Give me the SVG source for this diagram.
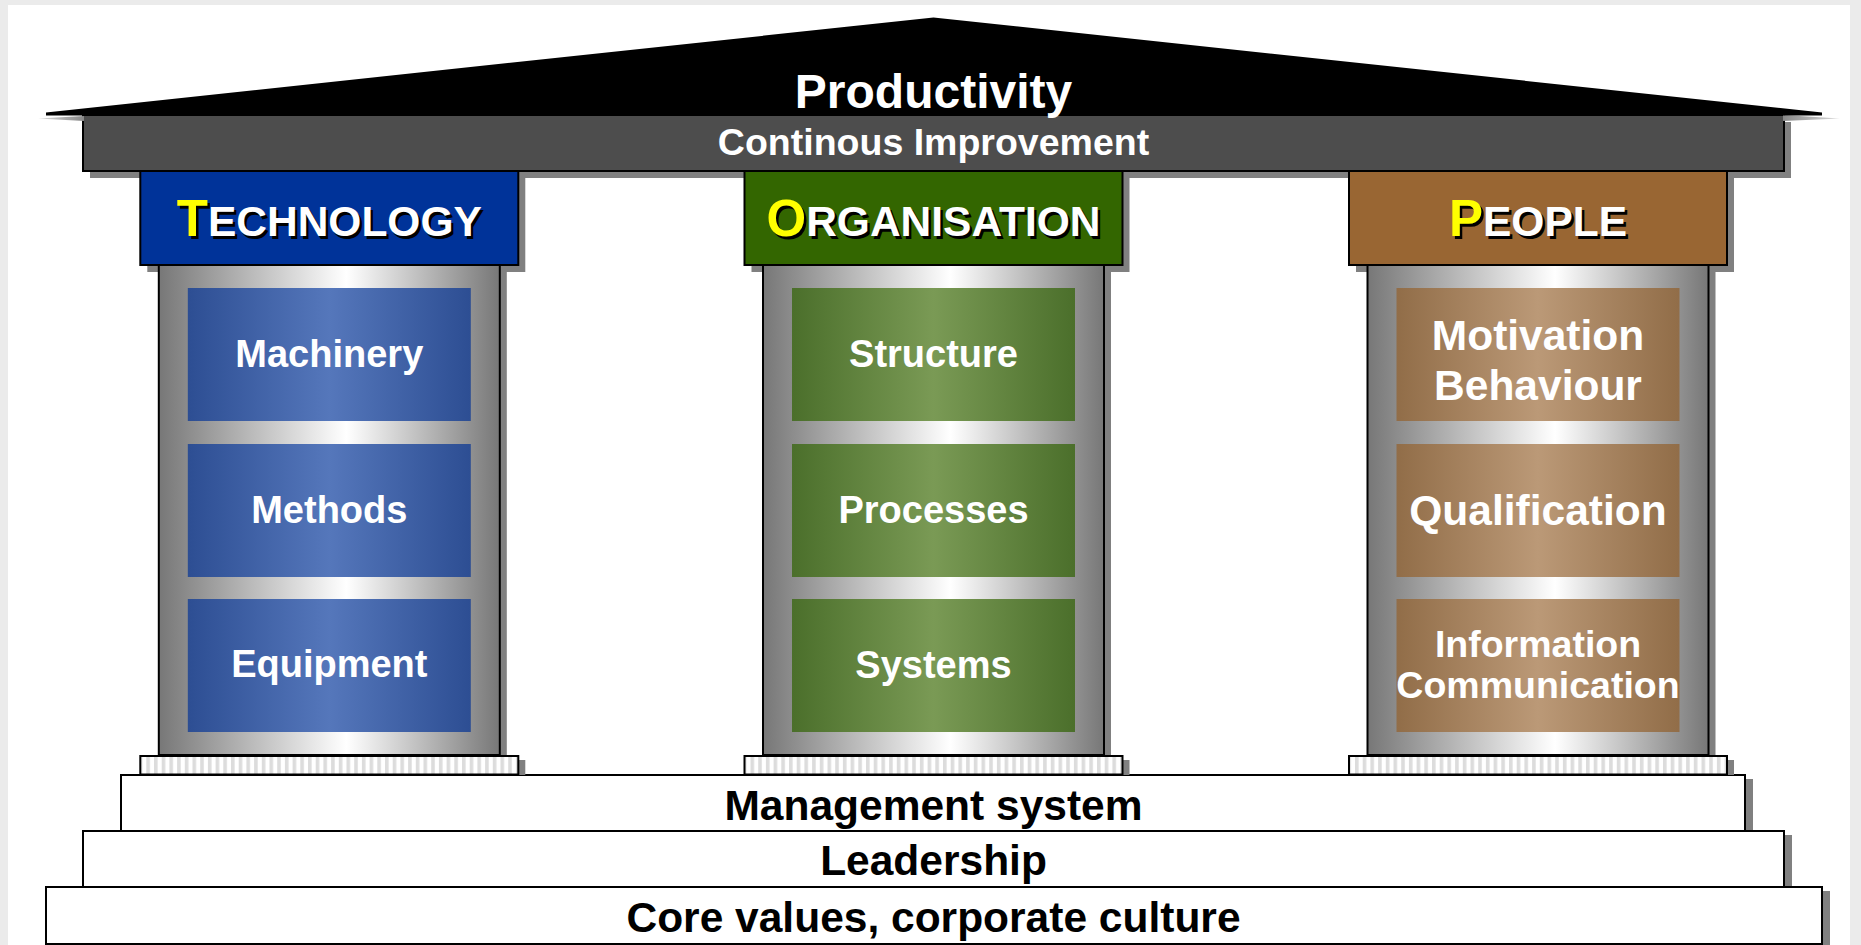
<svg xmlns="http://www.w3.org/2000/svg" width="1861" height="945" viewBox="0 0 1861 945">
<defs>
<linearGradient id="gShaft" x1="0" y1="0" x2="1" y2="0"><stop offset="0" stop-color="#777"/><stop offset="0.55" stop-color="#fff"/><stop offset="1" stop-color="#777"/></linearGradient>
<linearGradient id="gBlue" x1="0" y1="0" x2="1" y2="0"><stop offset="0" stop-color="#2d4e93"/><stop offset="0.5" stop-color="#5577bb"/><stop offset="1" stop-color="#2d4e93"/></linearGradient>
<linearGradient id="gGreen" x1="0" y1="0" x2="1" y2="0"><stop offset="0" stop-color="#4b6f2b"/><stop offset="0.5" stop-color="#7a9a55"/><stop offset="1" stop-color="#4b6f2b"/></linearGradient>
<linearGradient id="gBrown" x1="0" y1="0" x2="1" y2="0"><stop offset="0" stop-color="#916d48"/><stop offset="0.5" stop-color="#bb9977"/><stop offset="1" stop-color="#916d48"/></linearGradient>
<linearGradient id="gRoofShL" x1="0" y1="0" x2="1" y2="0"><stop offset="0" stop-color="#ddd"/><stop offset="1" stop-color="#888"/></linearGradient>
<linearGradient id="gRoofShR" x1="0" y1="0" x2="1" y2="0"><stop offset="0" stop-color="#888"/><stop offset="1" stop-color="#ddd"/></linearGradient>
<pattern id="stripes" patternUnits="userSpaceOnUse" x="-183" y="0" width="7.7" height="40"><rect width="7.7" height="40" fill="#fff"/><rect width="3.6" height="40" fill="#dcdcdc"/></pattern>
</defs>
<style>
.t{font-family:"Liberation Sans",Arial,Helvetica,sans-serif;font-weight:bold;text-anchor:middle}
.w{fill:#fff}
.k{fill:#000}
.yl{fill:#ffff00}
.sh{fill:#808080}
.ln{stroke:#000;stroke-width:2}
.title{font-size:42.5px}
.big{font-size:51px}
.item{font-size:38px}
.item2{font-size:42.5px}
.item3{font-size:37.5px}
.step{font-size:42.5px}
.shaft{fill:url(#gShaft)}
.plinth{fill:url(#stripes)}
.stepbox{fill:#fff}
</style>
<g id="background">
<rect x="0" y="0" width="1861" height="945" fill="#ebebeb"/>
<rect x="8" y="5" width="1842" height="940" fill="#fff"/>
</g>
<g id="continous-improvement">
<rect class="sh" x="90" y="122" width="1701" height="56"/>
<rect x="83" y="115" width="1701" height="56" fill="#4d4d4d" class="ln"/>
<text class="t w" x="933.5" y="155" style="font-size:37.5px">Continous Improvement</text>
</g>
<g id="roof">
<polygon points="38,118.5 84,116 84,121" fill="url(#gRoofShL)"/>
<polygon points="1783,115 1840,118.5 1783,121" fill="url(#gRoofShR)"/>
<polygon points="46,112.5 933.5,17.5 1822,112.5 1822,115.5 46,115.5" fill="#000"/>
<text class="t w" x="933.5" y="108" style="font-size:48px">Productivity</text>
</g>
<g id="steps">
<rect class="sh" x="1745" y="779" width="8" height="52"/>
<rect class="sh" x="1784" y="835" width="8" height="52"/>
<rect class="sh" x="1822" y="891" width="8" height="54"/>
<g id="step-core-values">
<rect class="stepbox ln" x="46" y="887" width="1776" height="57"/>
<text class="t k step" x="933.5" y="931.5">Core values, corporate culture</text>
</g>
<g id="step-leadership">
<rect class="stepbox ln" x="83" y="831" width="1701" height="56"/>
<text class="t k step" x="933.5" y="875">Leadership</text>
</g>
<g id="step-management">
<rect class="stepbox ln" x="121" y="775" width="1624" height="56"/>
<text class="t k step" x="933.5" y="820">Management system</text>
</g>
</g>
<g id="col-technology" transform="translate(329.3,0)">
<rect class="sh" x="-182" y="178" width="378" height="94"/>
<rect class="sh" x="-163.5" y="272" width="341" height="483"/>
<rect class="sh" x="-182" y="760" width="378" height="15"/>
<rect class="shaft ln" x="-170.5" y="265" width="341" height="490"/>
<rect class="ln" x="-189" y="171" width="378" height="94" fill="#003399"/>
<rect x="-141.5" y="288" width="283" height="133" fill="url(#gBlue)"/>
<rect x="-141.5" y="444" width="283" height="133" fill="url(#gBlue)"/>
<rect x="-141.5" y="599" width="283" height="133" fill="url(#gBlue)"/>
<rect class="plinth ln" x="-189" y="756" width="378" height="18.5"/>
<text class="t k title" x="2.5" y="238.5"><tspan class="big">T</tspan>ECHNOLOGY</text>
<text class="t w title" x="0" y="236"><tspan class="big yl">T</tspan>ECHNOLOGY</text>
<text class="t w item" x="0" y="367">Machinery</text>
<text class="t w item" x="0" y="523">Methods</text>
<text class="t w item" x="0" y="677">Equipment</text>
</g>
<g id="col-organisation" transform="translate(933.5,0)">
<rect class="sh" x="-182" y="178" width="378" height="94"/>
<rect class="sh" x="-163.5" y="272" width="341" height="483"/>
<rect class="sh" x="-182" y="760" width="378" height="15"/>
<rect class="shaft ln" x="-170.5" y="265" width="341" height="490"/>
<rect class="ln" x="-189" y="171" width="378" height="94" fill="#336600"/>
<rect x="-141.5" y="288" width="283" height="133" fill="url(#gGreen)"/>
<rect x="-141.5" y="444" width="283" height="133" fill="url(#gGreen)"/>
<rect x="-141.5" y="599" width="283" height="133" fill="url(#gGreen)"/>
<rect class="plinth ln" x="-189" y="756" width="378" height="18.5"/>
<text class="t k title" x="2.5" y="238.5"><tspan class="big">O</tspan>RGANISATION</text>
<text class="t w title" x="0" y="236"><tspan class="big yl">O</tspan>RGANISATION</text>
<text class="t w item" x="0" y="367">Structure</text>
<text class="t w item" x="0" y="523">Processes</text>
<text class="t w item" x="0" y="678">Systems</text>
</g>
<g id="col-people" transform="translate(1538,0)">
<rect class="sh" x="-182" y="178" width="378" height="94"/>
<rect class="sh" x="-163.5" y="272" width="341" height="483"/>
<rect class="sh" x="-182" y="760" width="378" height="15"/>
<rect class="shaft ln" x="-170.5" y="265" width="341" height="490"/>
<rect class="ln" x="-189" y="171" width="378" height="94" fill="#996633"/>
<rect x="-141.5" y="288" width="283" height="133" fill="url(#gBrown)"/>
<rect x="-141.5" y="444" width="283" height="133" fill="url(#gBrown)"/>
<rect x="-141.5" y="599" width="283" height="133" fill="url(#gBrown)"/>
<rect class="plinth ln" x="-189" y="756" width="378" height="18.5"/>
<text class="t k title" x="2.5" y="238.5"><tspan class="big">P</tspan>EOPLE</text>
<text class="t w title" x="0" y="236"><tspan class="big yl">P</tspan>EOPLE</text>
<text class="t w item2" x="0" y="350">Motivation</text>
<text class="t w item2" x="0" y="400">Behaviour</text>
<text class="t w item2" x="0" y="525">Qualification</text>
<text class="t w item3" x="0" y="657">Information</text>
<text class="t w item3" x="0" y="698">Communication</text>
</g>
</svg>
